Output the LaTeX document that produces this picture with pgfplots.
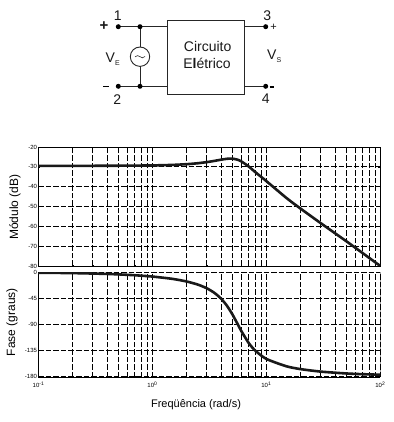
\documentclass[border=0pt]{standalone}
\usepackage{pgfplots}
\usepackage{fontspec}
\setmainfont{Liberation Sans}
\pgfplotsset{compat=1.18}
\pgfplotstableread{
w dB ph
0.1 -29.5 -0.7
0.2 -29.5 -1.4
0.35 -29.47 -2.5
0.5 -29.43 -3.6
0.7 -29.38 -5.1
1 -29.29 -7.4
1.5 -29.03 -11.4
2 -28.66 -16
2.5 -28.19 -21.3
3 -27.62 -27.7
3.5 -27.0 -35.7
4 -26.4 -45.6
4.5 -25.95 -57.8
5 -25.85 -72
5.6 -26.4 -90
6 -27.17 -101.2
7 -29.84 -122.7
8 -32.68 -136
10 -37.2 -150.3
15 -45.7 -163.1
20 -51.1 -168
30 -58.4 -172.3
50 -67.4 -175.5
70 -73.5 -176.8
100 -80 -177.7
}\bode
\begin{document}
\begin{tikzpicture}[x=1pt,y=1pt]
\useasboundingbox (0,0) rectangle (393,422);
% circuit
\begin{scope}[line width=0.9pt, black!85, yscale=-1, yshift=-422pt]
\draw (118.3,26.7) -- (167.3,26.7);
\draw (118.3,86.3) -- (167.3,86.3);
\draw (140,26.7) -- (140,47);
\draw (140,66.4) -- (140,86.3);
\draw (140,56.7) circle (9.7);
\draw[line width=0.6pt] (135,56.9) .. controls (136.5,55.2) and (138.5,55.2) .. (140,56.7) .. controls (141.5,58.2) and (143.5,58.2) .. (145,56.5);
\draw (167.3,20) rectangle (244,94.3);
\draw (244,26.7) -- (265.7,26.7);
\draw (244,86.3) -- (265.7,86.3);
\foreach \p in {(118.3,26.7),(140,26.7),(118.3,86.3),(140,86.3),(265.7,26.7),(265.7,86.3)}
  \fill[black] \p circle (2.5);
\end{scope}
\begin{scope}[font=\fontsize{14}{16}\selectfont, text=black!90]
\node[font=\fontsize{15}{16}\bfseries] at (104,422-26.5) {+};
\draw[line width=1.5pt, black] (103,422-86.7) -- (108.5,422-86.7);
\node at (117.7,422-15.5) {1};
\node at (117.3,422-100) {2};
\node at (267.3,422-15.5) {3};
\node at (265.7,422-99) {4};
\node[font=\fontsize{11}{12}\selectfont] at (273.7,422-27.5) {+};
\draw[line width=1.5pt, black] (269.5,422-87) -- (274,422-87);
\node[anchor=base west, inner sep=0pt] at (105.5,422-63) {V\raisebox{-2.5pt}{\fontsize{7}{8}\selectfont E}};
\node[anchor=base west, inner sep=0pt] at (267,422-60) {V\raisebox{-2.5pt}{\fontsize{7}{8}\selectfont S}};
\node at (207.7,422-46.5) {Circuito};
\node at (207,422-63) {E\textbf{l}étrico};
\end{scope}
% magnitude
\begin{axis}[at={(38.5pt,156pt)}, anchor=south west,
  scale only axis, width=341.8pt, height=119pt,
  xmode=log, xmin=0.1, xmax=100,
  xmajorgrids, xminorgrids, ymajorgrids,
  grid style={black, line width=0.8pt, dash pattern=on 5.5pt off 2pt},
  minor grid style={black, line width=0.8pt, dash pattern=on 5.5pt off 2pt},
  axis line style={black, line width=0.9pt, -},
  major tick length=2pt, minor tick length=1pt,
  tick style={black, line width=0.5pt},
  tick label style={font=\fontsize{6}{7}\selectfont},
  /pgf/number format/assume math mode=true,
  yticklabel style={xshift=2pt},
  ymin=-80, ymax=-20, ytick={-20,-30,-40,-50,-60,-70,-80},
  xtick={0.1,1,10,100}, xticklabels={}]
\addplot[black!90, line width=2.6pt, smooth, tension=0.4] table[x=w,y=dB] {\bode};
\end{axis}
% phase
\begin{axis}[at={(38.5pt,44.8pt)}, anchor=south west,
  scale only axis, width=341.8pt, height=104.9pt,
  xmode=log, xmin=0.1, xmax=100,
  xmajorgrids, xminorgrids, ymajorgrids,
  grid style={black, line width=0.8pt, dash pattern=on 5.5pt off 2pt},
  minor grid style={black, line width=0.8pt, dash pattern=on 5.5pt off 2pt},
  axis line style={black, line width=0.9pt, -},
  major tick length=2pt, minor tick length=1pt,
  tick style={black, line width=0.5pt},
  tick label style={font=\fontsize{6}{7}\selectfont},
  /pgf/number format/assume math mode=true,
  yticklabel style={xshift=2pt},
  ymin=-182, ymax=0, ytick={0,-45,-90,-135,-180},
  axis x line*=bottom, axis y line*=left,
  xtick={0.1,1,10,100},
  xticklabels={10\textsuperscript{-1},10\textsuperscript{0},10\textsuperscript{1},10\textsuperscript{2}},
  xticklabel style={yshift=-1pt}]
\addplot[black, line width=0.9pt, forget plot] coordinates {(100,0) (100,-182)};
\addplot[black!90, line width=2.6pt, smooth, tension=0.4] table[x=w,y=ph] {\bode};
\end{axis}
\node[rotate=90, font=\fontsize{12}{13}\selectfont] at (15,422-207) {Módulo (dB)};
\node[rotate=90, font=\fontsize{12}{13}\selectfont] at (12,422-322) {Fase (graus)};
\node[font=\fontsize{11}{13}\selectfont] at (196,422-405) {Freqüência (rad/s)};
\end{tikzpicture}
\end{document}
